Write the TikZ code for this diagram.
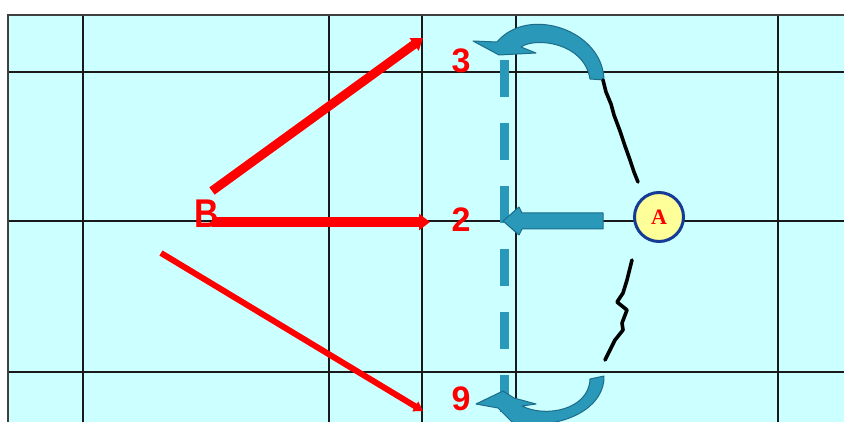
\documentclass[tikz,border=0pt]{standalone}
\usepackage{fontspec}
\setmainfont{Liberation Sans}
\newfontfamily\serifA{Liberation Serif}
\usetikzlibrary{arrows.meta}
\definecolor{bgcyan}{RGB}{204,255,255}
\definecolor{tealfill}{RGB}{42,152,184}
\definecolor{tealdark}{RGB}{28,108,138}
\definecolor{ablue}{RGB}{20,60,150}
\definecolor{ayellow}{RGB}{255,255,153}
\tikzset{
  gridline/.style={draw=black!90, line width=1.2},
  borderline/.style={draw=black!75, line width=2},
  redarrow/.style={draw=red, line cap=butt},
  numlabel/.style={text=red, font=\bfseries\fontsize{34}{34}\selectfont, inner sep=0},
  tealshape/.style={fill=tealfill, draw=tealdark, line width=1, line join=round},
  tealdash/.style={draw=tealfill, line width=9, dash pattern=on 37 off 26},
  squiggle/.style={draw=black, line width=3.6, line join=round, line cap=round},
}
\begin{document}
\begin{tikzpicture}[x=1pt,y=-1pt]
\useasboundingbox (0,0) rectangle (844,422);
\begin{scope}
\clip (0,0) rectangle (844,422);
\fill[bgcyan] (8,15) rectangle (850,430);
\foreach \x in {83,329,422,516,778} \draw[gridline] (\x,15) -- (\x,430);
\foreach \y in {72,221,372} \draw[gridline] (8,\y) -- (850,\y);
\draw[borderline] (850,15) -- (8,15) -- (8,430);

% red arrows
\coordinate (r1s) at (212,191); \coordinate (r1e) at (423,38);
\coordinate (r2s) at (212,222); \coordinate (r2e) at (430,222);
\coordinate (r3s) at (161,253); \coordinate (r3e) at (423,411);
\draw[redarrow, line width=9, -{Triangle[length=11pt,width=15pt]}] (r1s) -- (r1e);
\draw[redarrow, line width=10, -{Triangle[length=11pt,width=16pt]}] (r2s) -- (r2e);
\draw[redarrow, line width=6, -{Triangle[length=9pt,width=11pt]}] (r3s) -- (r3e);

\node[numlabel, yscale=1.18] (B) at (207,214) {B};
\node[numlabel] (n3) at (461,61) {3};
\node[numlabel] (n2) at (461,220) {2};
\node[numlabel] (n9) at (461,399) {9};

% dashed teal line
\coordinate (d1) at (504.5,60); \coordinate (d2) at (504.5,430);
\draw[tealdash] (d1) -- (d2);

% middle teal arrow
\draw[tealshape] (603,213) -- (522,213) -- (519,207) -- (503,221) -- (519,235) -- (522,229) -- (603,229) -- cycle;

% top curved arrow
\draw[tealshape] (604,80) .. controls (603,30) and (528,5) .. (497,42)
  -- (473,41) -- (499,55) -- (536,53) -- (521,47)
  .. controls (535,37) and (584,42) .. (590,79) -- cycle;

% bottom curved arrow
\draw[tealshape] (604,376) .. controls (605,405) and (570,428) .. (520,424)
  -- (512,422) -- (498,408) -- (476,404) -- (503,391) -- (514,398) -- (536,404) -- (522,406)
  .. controls (545,418) and (589,410) .. (590,379) -- cycle;

% black squiggles
\draw[squiggle] (603,80) -- (606,92) -- (611,104) -- (614,115) -- (620,131) -- (625,146) -- (630,160) -- (634,172) -- (638,182);
\draw[squiggle] (632,260) -- (627,280) -- (623,293) -- (617,302) -- (627,310) -- (622,323) -- (623,330) -- (615,340) -- (605,360);

% circle A
\node[circle, draw=ablue, line width=3, fill=ayellow, minimum size=49, inner sep=0,
      text=red, font=\serifA\bfseries\fontsize{22}{22}\selectfont] (A) at (659,217) {A};
\end{scope}
\end{tikzpicture}
\end{document}
